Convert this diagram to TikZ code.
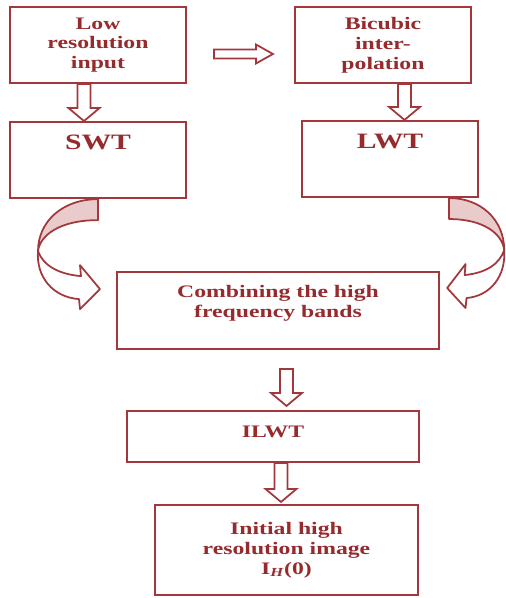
\documentclass[tikz,border=0pt]{standalone}
\usepackage{fontspec}
\setmainfont[FakeStretch=1.35]{Liberation Serif}
\usetikzlibrary{positioning, calc}
\definecolor{cred}{HTML}{A3383C}
\definecolor{ctext}{HTML}{962B2E}
\definecolor{cpink}{HTML}{E9CBCC}
\tikzset{
  every picture/.style={line width=1.2pt},
  box/.style={draw=cred, fill=white, text=ctext, align=center, inner sep=0pt, font=\bfseries\fontsize{10}{11.3}\selectfont},
  bigbox/.style={box, font=\bfseries\fontsize{12.5}{14}\selectfont},
  hollow/.style={draw=cred, fill=white, line width=1pt, line join=miter},
  ribbon/.style={draw=cred, line width=1pt, line join=round},
}
% hollow block arrows: shaft starts level with #1, tip at #2
\newcommand{\hollowdown}[2]{%
  \draw[hollow] ($(#2 |- #1)+(-6.5,0)$) -- ($(#2)+(-6.5,-13)$) -- ($(#2)+(-15.5,-13)$) -- (#2)
    -- ($(#2)+(15.5,-13)$) -- ($(#2)+(6.5,-13)$) -- ($(#2 |- #1)+(6.5,0)$) -- cycle;}
\newcommand{\hollowright}[2]{%
  \draw[hollow] ($(#1)+(0,-4.5)$) -- ($(#2)+(-17,-4.5)$) -- ($(#2)+(-17,-9.5)$) -- (#2)
    -- ($(#2)+(-17,9.5)$) -- ($(#2)+(-17,4.5)$) -- ($(#1)+(0,4.5)$) -- cycle;}
% twisted ribbon arrow, origin at the corner where it leaves the box
\newcommand{\bentarrow}[1]{%
  \begin{scope}[#1]
    \draw[ribbon, fill=cpink] (0,0) .. controls (-35,0) and (-60,22) .. (-60,52)
      .. controls (-58,36) and (-38,21) .. (0,21) -- cycle;
    \draw[ribbon, fill=white] (-60,52) .. controls (-62,78) and (-45,98) .. (-19,100)
      -- (-18,110) -- (2,90) -- (-18,66) -- (-17,77) .. controls (-40,75) and (-55,66) .. (-60,52) -- cycle;
  \end{scope}}

\begin{document}
\begin{tikzpicture}[x=0.02cm, y=-0.02cm]
  \useasboundingbox (0,0) rectangle (506,598);
  % top row
  \node[box, minimum width=3.52cm, minimum height=1.52cm] (lowres) at (98,45) {Low\\resolution\\input};
  \node[box, minimum width=3.52cm, minimum height=1.52cm] (bicubic) at (383,45) {Bicubic\\inter-\\polation};
  % wavelet transforms, label at the top of the box
  \node[bigbox, minimum width=3.52cm, text height=0.54cm, text depth=0.98cm, below=0.74cm of lowres] (swt) {SWT};
  \node[bigbox, minimum width=3.52cm, text height=0.54cm, text depth=0.98cm] (lwt) at (390,159) {LWT};
  % fusion and inverse
  \node[box, minimum width=6.44cm, minimum height=1.54cm] (combine) at (278,310.5) {Combining the high\\frequency bands\\[-1pt]\mbox{}};
  \node[box, minimum width=5.84cm, text height=0.52cm, text depth=0.5cm] (ilwt) at (273,436.5) {ILWT};
  \node[box, minimum width=5.26cm, minimum height=1.8cm] (init) at (286.5,550) {Initial high\\resolution image\\I\textsubscript{\itshape H}(0)};
  % block arrows
  \coordinate (h1) at ($(lowres.east)+(27,9)$);
  \coordinate (h2) at ($(bicubic.west)+(-21,9)$);
  \hollowright{h1}{h2}
  \coordinate (t1) at ($(swt.north)+(-14,0)$);
  \hollowdown{lowres.south}{t1}
  \coordinate (t2) at ($(lwt.north)+(14.5,0)$);
  \hollowdown{bicubic.south}{t2}
  \coordinate (s3) at ($(combine.south)+(0,19)$);
  \coordinate (t3) at ($(ilwt.north)+(13.5,-4)$);
  \hollowdown{s3}{t3}
  \coordinate (t4) at ($(init.north)+(-5.5,-2)$);
  \hollowdown{ilwt.south}{t4}
  % bent arrows into the combination step
  \bentarrow{shift={(swt.south)}}
  \bentarrow{shift={($(lwt.south)+(59,0)$)}, xscale=-0.92}
\end{tikzpicture}
\end{document}
